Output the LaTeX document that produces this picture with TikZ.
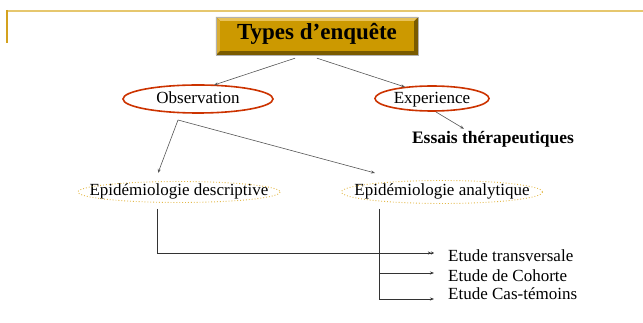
\documentclass[tikz,border=0pt]{standalone}
\usepackage{fontspec}
\setmainfont{Liberation Serif}
\usetikzlibrary{shapes.geometric,arrows.meta,calc}
\definecolor{boxgold}{HTML}{CC9900}
\definecolor{bevlight}{HTML}{E8C25A}
\definecolor{bevmid}{HTML}{D9AD33}
\definecolor{bevdark}{HTML}{7A5B00}
\definecolor{rimline}{HTML}{E6C76E}
\definecolor{rimside}{HTML}{D4A21E}
\definecolor{ovalred}{HTML}{CC3300}
\definecolor{dotgold}{HTML}{E3B94A}
\definecolor{linkgray}{HTML}{555555}
\tikzset{
  body/.style={font=\fontsize{17}{20}\selectfont, inner sep=0pt, text height=11.5pt, text depth=3.5pt},
  redring/.style={draw=ovalred, line width=1.6pt},
  dotring/.style={draw=dotgold, dotted, line width=0.9pt},
  tip/.style={-{Stealth[length=4pt,width=3pt]}},
  uplink/.style={tip, draw=linkgray, line width=0.6pt},
  lowlink/.style={tip, draw=black!80, line width=0.6pt},
}
\begin{document}
\begin{tikzpicture}[x=1pt,y=-1pt]
\useasboundingbox (0,0) rectangle (643,323);

% page frame lines at the top left
\draw[rimline, line width=2pt] (7,11) -- (643,11);
\draw[rimside, line width=1.5pt] (7,10) -- (7,43);

% bevelled title button
\node[minimum width=202pt, minimum height=38pt, inner sep=0pt] (tbox) at (317,36) {};
\fill[bevdark] (tbox.north west) rectangle (tbox.south east);
\fill[bevlight] (tbox.north west) -- (tbox.north east) -- ($(tbox.north east)+(-4,4)$)
  -- ($(tbox.north west)+(4,4)$) -- cycle;
\fill[bevmid] (tbox.north west) -- ($(tbox.north west)+(4,4)$)
  -- ($(tbox.south west)+(4,-4)$) -- (tbox.south west) -- cycle;
\fill[boxgold] ($(tbox.north west)+(4,4)$) rectangle ($(tbox.south east)+(-4,-4)$);
\draw[gray!60, line width=0.5pt] (tbox.north west) rectangle (tbox.south east);
\node[font=\bfseries\fontsize{23}{26}\selectfont, inner sep=0pt, text height=16pt, text depth=5pt] (ttl) at ($(tbox.center)+(0,-1.5)$) {Types d’enquête};

% second level
\node[body] (obs) at (198,100) {Observation};
\draw[redring] ($(obs.center)+(0,-1)$) ellipse [x radius=75, y radius=14];
\node[body] (exp) at (432,100) {Experience};
\draw[redring] ($(exp.center)+(0,-1.5)$) ellipse [x radius=57, y radius=12.5];
\node[font=\bfseries\fontsize{17.5}{20}\selectfont, inner sep=0pt, text height=12pt, text depth=4pt] (ess) at (493,140) {Essais thérapeutiques};

% third level
\node[body] (desc) at (179,192) {Epidémiologie descriptive};
\draw[dotring] (desc.center) ellipse [x radius=101, y radius=10.5];
\node[body] (ana) at (442,192) {Epidémiologie analytique};
\draw[dotring] (ana.center) ellipse [x radius=100.5, y radius=11.5];

% study types
\node[body, anchor=west] (tr) at (448,258) {Etude transversale};
\node[body, anchor=west] (coh) at (448,278) {Etude de Cohorte};
\node[body, anchor=west] (cas) at (448,296) {Etude Cas-témoins};

% connectors from the title
\draw[uplink] ($(tbox.south)+(-22,3)$) -- ($(obs.center)+(16,-15)$);
\draw[uplink] ($(tbox.south)+(0,3)$) -- ($(exp.center)+(-27,-13)$);
\draw[uplink] ($(exp.center)+(4,12)$) -- ($(ess.north)+(-29,-3)$);

% connectors from Observation
\coordinate (obsfoot) at ($(obs.center)+(-20,20)$);
\draw[uplink] (obsfoot) -- ($(desc.center)+(-21,-19)$);
\draw[uplink] (obsfoot) -- ($(ana.center)+(-67,-19)$);

% connectors to the study types
\coordinate (descfoot) at ($(desc.center)+(-22,17)$);
\coordinate (anafoot) at ($(ana.center)+(-63,17)$);
\coordinate (trend) at ($(tr.west)+(-14,-5)$);
\coordinate (cohend) at ($(coh.west)+(-14,-5)$);
\coordinate (casend) at ($(cas.west)+(-14,3)$);
\draw[lowlink, -{Stealth[length=3pt,width=3pt] Stealth[length=3pt,width=3pt]}] (descfoot) |- (trend);
\draw[lowlink] (anafoot) |- (casend);
\draw[lowlink] (anafoot |- cohend) -- (cohend);
\end{tikzpicture}
\end{document}
